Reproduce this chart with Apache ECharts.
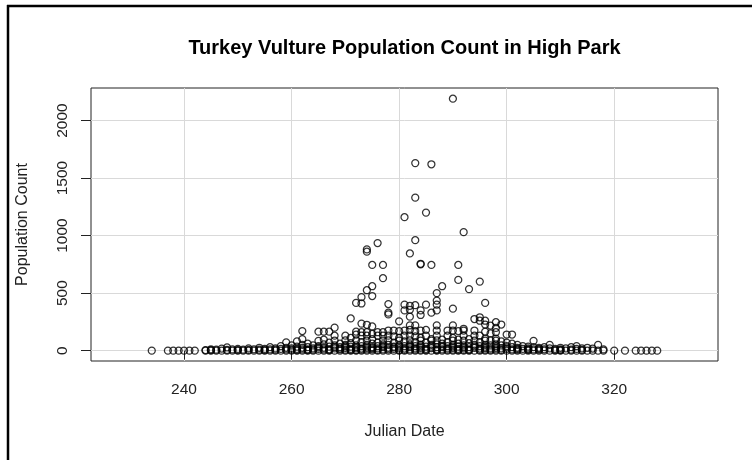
<!DOCTYPE html>
<html>
<head>
<meta charset="utf-8">
<title>Turkey Vulture Population Count in High Park</title>
<script src="https://cdn.jsdelivr.net/npm/echarts@6/dist/echarts.min.js"></script>
<style>
  html, body { margin: 0; padding: 0; background: #fff; }
  #chart { width: 752px; height: 460px; }
</style>
</head>
<body>
<div id="chart"></div>
<script>
// Tick positions for both axes
const xTicks = [240, 260, 280, 300, 320];
const yTicks = [0, 500, 1000, 1500, 2000];

// Days on which no vultures were counted
const zeroDays = [
  234, 237, 238, 239, 240, 241, 242,
  244, 245, 246, 247, 248, 249, 250, 251, 252, 253, 254, 255, 256, 257, 258, 259,
  260, 261, 262, 263, 264, 265, 266, 267, 268, 269, 270, 271, 272, 273, 274, 275,
  276, 277, 278, 279, 280, 281, 282, 283, 284, 285, 286, 287, 288, 289, 290, 291,
  292, 293, 294, 295, 296, 297, 298, 299, 300, 301, 302, 303, 304, 305, 306, 307,
  308, 309, 310, 311, 312, 313, 314, 315, 316, 317, 318, 320, 322, 324, 325, 326,
  327, 328
];

// Small counts (under ~150): [julian day, count]
const lowCounts = [
  [244, 5], [245, 12], [245, 4], [246, 8], [247, 18], [248, 28], [248, 6], [249, 10],
  [250, 15], [250, 5], [251, 8], [252, 20], [252, 6], [253, 12], [254, 25], [254, 8],
  [255, 15], [255, 5], [256, 30], [256, 10], [257, 20], [257, 8], [258, 40], [258, 15],
  [259, 72], [259, 25], [259, 10], [260, 45], [260, 20], [260, 8],
  [261, 81], [261, 35], [261, 15], [261, 5], [262, 100], [262, 50], [262, 25], [262, 10],
  [263, 60], [263, 30], [263, 12], [264, 45], [264, 20], [264, 8],
  [265, 85], [265, 40], [265, 15], [266, 95], [266, 55], [266, 25], [266, 10],
  [267, 70], [267, 35], [267, 12], [268, 130], [268, 88], [268, 45], [268, 20],
  [269, 60], [269, 30], [269, 10], [270, 130], [270, 90], [270, 50], [270, 25], [270, 8],
  [271, 110], [271, 65], [271, 35], [271, 15], [272, 140], [272, 90], [272, 45], [272, 20], [272, 5],
  [273, 130], [273, 75], [273, 40], [273, 18], [274, 130], [274, 87], [274, 50], [274, 25], [274, 10],
  [275, 100], [275, 60], [275, 30], [275, 12], [276, 130], [276, 70], [276, 40], [276, 20],
  [277, 130], [277, 87], [277, 55], [277, 30], [277, 10], [278, 130], [278, 90], [278, 50], [278, 25],
  [279, 125], [279, 70], [279, 35], [279, 15], [280, 110], [280, 87], [280, 45], [280, 20], [280, 5],
  [281, 130], [281, 80], [281, 40], [281, 18], [282, 130], [282, 90], [282, 55], [282, 30], [282, 10],
  [283, 125], [283, 75], [283, 40], [283, 20], [284, 110], [284, 87], [284, 50], [284, 25], [284, 8],
  [285, 130], [285, 70], [285, 35], [285, 15], [286, 100], [286, 87], [286, 50], [286, 22],
  [287, 130], [287, 90], [287, 55], [287, 30], [287, 12], [288, 95], [288, 60], [288, 30], [288, 10],
  [289, 130], [289, 75], [289, 40], [289, 20], [290, 110], [290, 87], [290, 50], [290, 25], [290, 8],
  [291, 95], [291, 60], [291, 35], [291, 15], [292, 130], [292, 87], [292, 45], [292, 20], [292, 6],
  [293, 100], [293, 65], [293, 30], [293, 12], [294, 130], [294, 87], [294, 50], [294, 25],
  [295, 130], [295, 75], [295, 40], [295, 18], [296, 105], [296, 87], [296, 50], [296, 22], [296, 8],
  [297, 150], [297, 90], [297, 45], [297, 20], [298, 105], [298, 87], [298, 55], [298, 25], [298, 10],
  [299, 80], [299, 45], [299, 20], [300, 140], [300, 70], [300, 40], [300, 15],
  [301, 140], [301, 60], [301, 30], [301, 10], [302, 50], [302, 25], [302, 8], [303, 40], [303, 15],
  [304, 35], [304, 20], [304, 6], [305, 85], [305, 30], [305, 10], [306, 25], [306, 8],
  [307, 30], [307, 12], [308, 50], [308, 20], [309, 15], [309, 5], [310, 25], [310, 10],
  [311, 20], [312, 30], [312, 8], [313, 40], [313, 15], [314, 20], [314, 6], [315, 25],
  [316, 18], [317, 50], [318, 10]
];

// Further small counts from other seasons, clustered in the busy weeks
const lowCountsExtra = [
  [263, 4], [265, 28], [267, 5], [268, 32], [269, 18], [270, 40], [271, 5], [272, 30],
  [273, 8], [274, 38], [275, 22], [276, 6], [277, 42], [278, 12], [279, 28], [280, 35],
  [281, 6], [282, 42], [283, 8], [284, 38], [285, 5], [286, 35], [287, 4], [288, 42],
  [289, 8], [290, 38], [291, 5], [292, 32], [293, 4], [294, 38], [295, 6], [296, 35],
  [297, 8], [298, 40], [299, 6], [300, 28], [302, 15], [304, 12], [306, 16], [310, 4]
];

// Moderate counts (~150 to ~350)
const midCounts = [
  [262, 170], [265, 165], [266, 165], [267, 165], [268, 200], [271, 280], [272, 165],
  [273, 235], [273, 160], [274, 225], [274, 160], [275, 210], [275, 145], [276, 160],
  [277, 160], [278, 175], [279, 175], [280, 255], [280, 170], [281, 175], [282, 295],
  [282, 220], [282, 180], [283, 220], [283, 170], [284, 310], [284, 175], [285, 180],
  [286, 330], [287, 220], [287, 175], [289, 175], [290, 220], [290, 175], [291, 170],
  [292, 190], [292, 175], [294, 275], [294, 175], [295, 290], [295, 260], [296, 260],
  [296, 227], [296, 165], [297, 218], [298, 247], [298, 198], [298, 160], [299, 227],
  [278, 330], [278, 315]
];

// High counts (~350 to ~650)
const highCounts = [
  [272, 415], [273, 410], [273, 465], [275, 475], [274, 525], [275, 560], [278, 405],
  [281, 400], [282, 390], [283, 395], [285, 400], [281, 350], [282, 355], [284, 350],
  [287, 435], [287, 400], [287, 350], [290, 365], [296, 415], [288, 560], [293, 535],
  [287, 500], [295, 600], [291, 615], [277, 630]
];

// Peak-migration counts (over ~700)
const peakCounts = [
  [290, 2190], [283, 1630], [286, 1620], [283, 1330], [285, 1200], [281, 1160],
  [292, 1030], [283, 960], [276, 935], [274, 880], [274, 860], [282, 845],
  [275, 745], [277, 745], [284, 750], [284, 755], [286, 745], [291, 745]
];

const points = zeroDays.map(function (d) { return [d, 0]; })
  .concat(lowCounts, lowCountsExtra, midCounts, highCounts, peakCounts);

const FONT = "'Liberation Sans', Arial, sans-serif";
const chart = echarts.init(document.getElementById('chart'), null, { renderer: 'canvas' });

chart.setOption({
  animation: false,
  backgroundColor: '#ffffff',
  graphic: [
    { type: 'line', shape: { x1: 7, y1: 6, x2: 752, y2: 6 }, style: { stroke: '#000', lineWidth: 2.5 } },
    { type: 'line', shape: { x1: 8, y1: 5, x2: 8, y2: 460 }, style: { stroke: '#000', lineWidth: 2.5 } },
    {
      type: 'text', x: 404.5, y: 48,
      style: {
        text: 'Turkey Vulture Population Count in High Park',
        font: 'bold 20px ' + FONT, fill: '#000',
        textAlign: 'center', textVerticalAlign: 'middle'
      }
    }
  ],
  grid: {
    left: 91, right: 34, top: 88, bottom: 99,
    show: true, borderColor: '#222', borderWidth: 1, backgroundColor: 'transparent'
  },
  xAxis: {
    type: 'value',
    min: 222.7, max: 339.3,
    name: 'Julian Date',
    nameLocation: 'middle',
    nameGap: 71,
    nameTextStyle: { fontFamily: FONT, fontSize: 16, color: '#222', verticalAlign: 'middle' },
    axisLine: { show: false },
    axisTick: { show: true, inside: false, length: 9, customValues: xTicks, lineStyle: { color: '#222' } },
    axisLabel: {
      customValues: xTicks, margin: 21, fontFamily: FONT, fontSize: 15.5, color: '#222',
      formatter: function (v) { return String(v); }
    },
    splitLine: { show: true, lineStyle: { color: '#d9d9d9', width: 1 } }
  },
  yAxis: {
    type: 'value',
    min: -90, max: 2283,
    name: 'Population Count',
    nameLocation: 'middle',
    nameGap: 68,
    nameRotate: 90,
    nameTextStyle: { fontFamily: FONT, fontSize: 16, color: '#222', verticalAlign: 'middle' },
    axisLine: { show: false },
    axisTick: { show: true, inside: false, length: 10, customValues: yTicks, lineStyle: { color: '#222' } },
    axisLabel: {
      customValues: yTicks, rotate: 90, margin: 20,
      align: 'center', verticalAlign: 'bottom',
      fontFamily: FONT, fontSize: 15.5, color: '#222',
      formatter: function (v) { return String(v); }
    },
    splitLine: { show: true, lineStyle: { color: '#d9d9d9', width: 1 } }
  },
  series: [{
    type: 'scatter',
    data: points,
    symbol: 'circle',
    symbolSize: 7,
    itemStyle: { color: 'rgba(0,0,0,0)', borderColor: '#000', borderWidth: 1.25 },
    emphasis: { disabled: true },
    silent: true
  }]
});
</script>
</body>
</html>
